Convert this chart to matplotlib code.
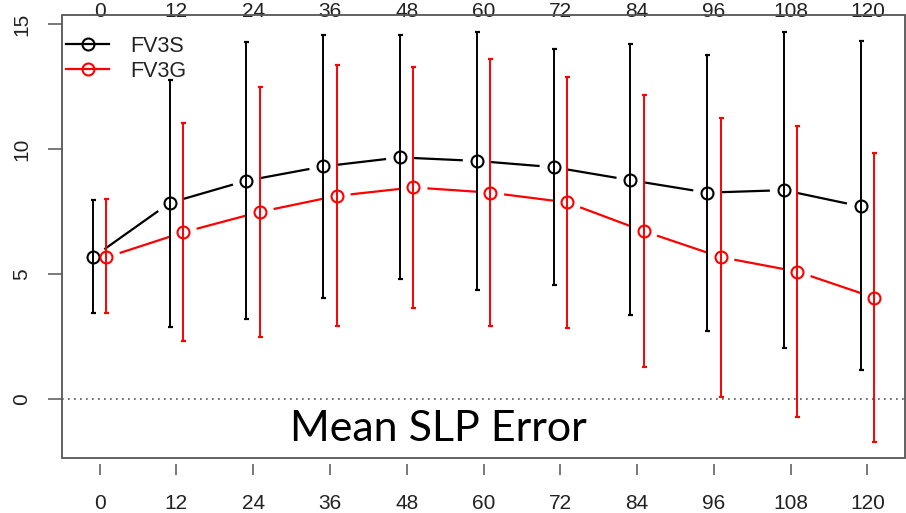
"""
Mean SLP error vs forecast hour, FV3S vs FV3G (mean +/- spread).
ออก: out.png
"""
import numpy as np
import matplotlib
matplotlib.use("Agg")
import matplotlib.pyplot as plt
from matplotlib.lines import Line2D
from matplotlib.patches import Rectangle

# ---- data ----
hours = [0, 12, 24, 36, 48, 60, 72, 84, 96, 108, 120]
fv3s_mean = [5.68, 7.86, 8.75, 9.32, 9.68, 9.54, 9.29, 8.77, 8.27, 8.37, 7.72]
fv3s_lo = [3.44, 2.91, 3.21, 4.05, 4.80, 4.39, 4.56, 3.36, 2.73, 2.04, 1.17]
fv3s_hi = [7.97, 12.77, 14.29, 14.59, 14.56, 14.71, 14.03, 14.21, 13.76, 14.71, 14.32]
fv3g_mean = [5.68, 6.68, 7.50, 8.14, 8.48, 8.27, 7.88, 6.73, 5.69, 5.11, 4.07]
fv3g_lo = [3.44, 2.35, 2.51, 2.93, 3.64, 2.93, 2.85, 1.29, 0.09, -0.71, -1.69]
fv3g_hi = [8.00, 11.04, 12.48, 13.37, 13.29, 13.60, 12.89, 12.19, 11.27, 10.93, 9.84]
yticks = [0, 5, 10, 15]
title = "Mean SLP Error"

DODGE = 1.05          # hours, side-by-side shift of the two series
GAP = 14.0            # px, R type="b" gap around points
TICKFONT = ["Liberation Sans", "DejaVu Sans"]


def gapped_line(ax, x, y, color):
    # R-style type="b": segments stop short of the points
    pts = ax.transData.transform(np.c_[x, y])
    inv = ax.transData.inverted()
    for p0, p1 in zip(pts[:-1], pts[1:]):
        d = p1 - p0
        L = np.hypot(*d)
        if L <= 2 * GAP:
            continue
        u = d / L
        seg = inv.transform(np.vstack([p0 + u * GAP, p1 - u * GAP]))
        ax.plot(seg[:, 0], seg[:, 1], color=color, lw=1.6, zorder=3,
                solid_capstyle="butt")


def series(ax, x, mean, lo, hi, color):
    mean = np.asarray(mean)
    err = [mean - np.asarray(lo), np.asarray(hi) - mean]
    ax.errorbar(x, mean, yerr=err, fmt="none", ecolor=color, elinewidth=1.4,
                capsize=1.8, capthick=1.6, zorder=4)
    gapped_line(ax, x, mean, color)
    ax.plot(x, mean, "o", ms=8.6, mfc="none", mec=color, mew=1.5, zorder=5)


def main():
    fig = plt.figure(figsize=(9.06, 5.13), dpi=100)
    ax = fig.add_axes([62 / 906, 55 / 513, 843 / 906, 443 / 513])
    ax.set_xlim(-5.88, 125.88)
    ax.set_ylim(-2.35, 15.38)

    x = np.asarray(hours, dtype=float)
    ax.axhline(0, color="#555555", lw=1.2, ls=(0, (1, 2.6)), zorder=1)
    series(ax, x - DODGE, fv3s_mean, fv3s_lo, fv3s_hi, "black")
    series(ax, x + DODGE, fv3g_mean, fv3g_lo, fv3g_hi, "red")

    # box + detached bottom axis
    for s in ax.spines.values():
        s.set_visible(False)
    ax.spines["bottom"].set_position(("outward", 4))
    ax.add_patch(Rectangle((0, 0), 1, 1, transform=ax.transAxes, fill=False,
                           ec="#555555", lw=1.3, clip_on=False, zorder=6))

    ax.set_xticks(hours)
    ax.set_yticks(yticks)
    ax.tick_params(axis="x", bottom=True, top=False, labelbottom=True,
                   labeltop=False, length=8, width=1.1, color="#555555",
                   pad=14, labelsize=15)
    ax.tick_params(axis="y", length=10, width=1.1, color="#555555", pad=12,
                   labelsize=15)
    for lab in ax.get_xticklabels() + ax.get_yticklabels():
        lab.set_family(TICKFONT)
        lab.set_color("#222222")
    for lab in ax.get_yticklabels():
        lab.set_rotation(90)
        lab.set_va("center")

    # top labels (cut off by the image edge)
    top = ax.secondary_xaxis("top")
    top.set_xticks(hours)
    top.tick_params(length=0, pad=-4, labelsize=15)
    top.spines["top"].set_visible(False)
    for lab in top.get_xticklabels():
        lab.set_family(TICKFONT)
        lab.set_color("#222222")

    handles = [Line2D([], [], color=c, lw=1.6, marker="o", ms=8.6, mfc="none",
                      mec=c, mew=1.5) for c in ("black", "red")]
    leg = ax.legend(handles, ["FV3S", "FV3G"], loc="upper left",
                    bbox_to_anchor=(0, 1 - 16.5 / 443), frameon=False,
                    handlelength=2.0, handletextpad=1.0, labelspacing=0.2,
                    borderaxespad=0.0, borderpad=0.19,
                    prop={"family": TICKFONT, "size": 15.5})
    for t in leg.get_texts():
        t.set_color("#222222")

    ax.text(52.9, -1.2, title, ha="center", va="center", fontsize=31,
            family=["Lato", "DejaVu Sans"], color="black")

    fig.savefig("out.png", dpi=100)
    plt.close(fig)


if __name__ == "__main__":
    main()
